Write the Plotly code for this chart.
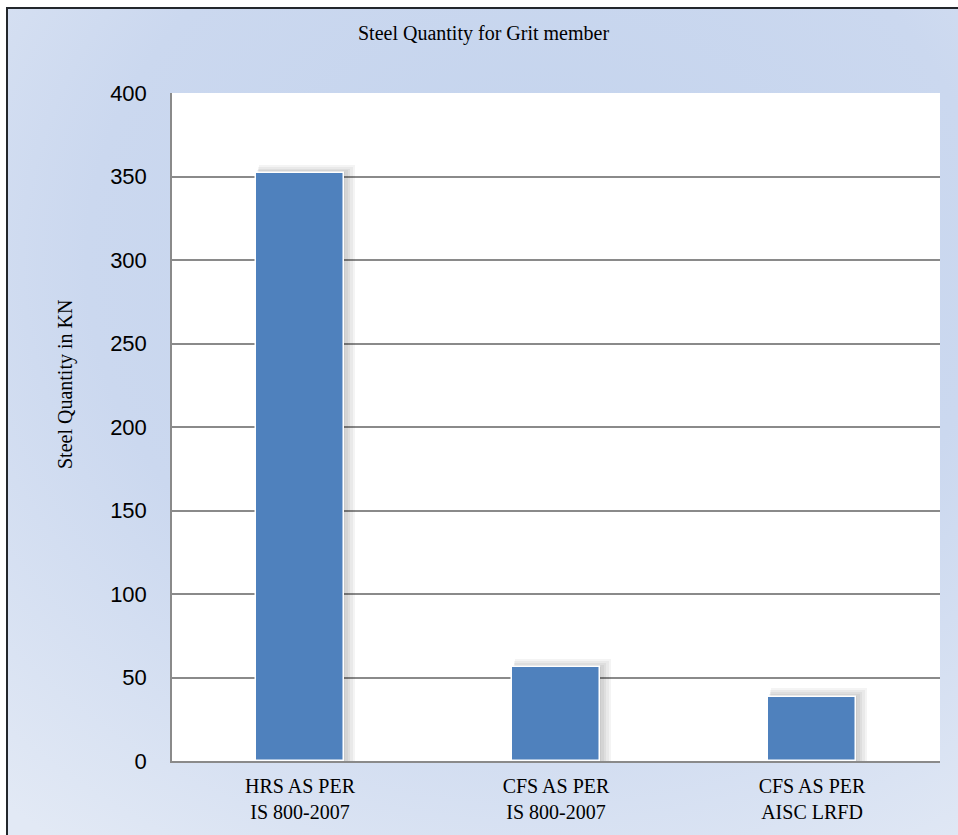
import base64
import plotly.graph_objects as go

# Chart data
categories = ["HRS AS PER<br>IS 800-2007", "CFS AS PER<br>IS 800-2007", "CFS AS PER<br>AISC LRFD"]
steel_qty = [352, 56, 38.6]
y_ticks = [0, 50, 100, 150, 200, 250, 300, 350, 400]

title_text = "Steel Quantity for Grit member"
y_title = "Steel Quantity in KN"

W, H = 958, 835
L, R, T, B = 172, 18, 93, 74
PW, PH = W - L - R, H - T - B


def px_x(px):
    return (px - L) / PW


def px_y(py):
    return (H - B - py) / PH


BAR_W = 0.344
BAR_COLOR = "#4F81BD"
x_pos = list(range(len(categories)))

fig = go.Figure()

# soft drop shadow built from several translucent layers behind each bar
unit_px = PH / 400.0
cat_px = PW / len(categories)
for spread in (9, 7, 5, 3, 1):
    fig.add_trace(go.Bar(
        x=x_pos,
        y=[v + spread * 0.9 / unit_px for v in steel_qty],
        width=BAR_W + (spread * 0.9) / cat_px,
        offset=-BAR_W / 2 + (spread * 0.35) / cat_px,
        marker=dict(color="rgba(0,0,0,0.045)", line=dict(width=0)),
        hoverinfo="skip",
        showlegend=False,
    ))

fig.add_trace(go.Bar(
    x=x_pos,
    y=steel_qty,
    width=BAR_W,
    offset=-BAR_W / 2,
    marker=dict(color=BAR_COLOR, line=dict(color="white", width=1.5)),
    showlegend=False,
))

# gradient backdrop for the chart frame
svg = (
    '<svg xmlns="http://www.w3.org/2000/svg" width="960" height="840" viewBox="0 0 960 840" preserveAspectRatio="none">'
    '<defs><radialGradient id="g" cx="0.55" cy="0.3" r="0.85" gradientUnits="objectBoundingBox">'
    '<stop offset="0" stop-color="#c3d3ed"/>'
    '<stop offset="0.55" stop-color="#cbd8ef"/>'
    '<stop offset="1" stop-color="#e2e9f5"/>'
    '</radialGradient></defs>'
    '<rect width="960" height="840" fill="url(#g)"/></svg>'
)
src = "data:image/svg+xml;base64," + base64.b64encode(svg.encode()).decode()

fx0, fy0, fx1, fy1 = 7, 8, 975, 850
fig.add_layout_image(dict(
    source=src, xref="paper", yref="paper",
    x=px_x(fx0), y=px_y(fy0),
    sizex=(fx1 - fx0) / PW, sizey=(fy1 - fy0) / PH,
    xanchor="left", yanchor="top", sizing="stretch", layer="below",
))

# white plotting area on top of the backdrop
fig.add_shape(type="rect", xref="paper", yref="paper", x0=0, x1=1, y0=0, y1=1,
              fillcolor="white", line=dict(width=0), layer="below")
# dark frame around the whole chart
fig.add_shape(type="rect", xref="paper", yref="paper",
              x0=px_x(fx0), x1=px_x(fx1), y0=px_y(fy1), y1=px_y(fy0),
              line=dict(color="#23272c", width=2), fillcolor="rgba(0,0,0,0)", layer="above")

fig.add_annotation(text=title_text, xref="paper", yref="paper",
                   x=px_x(483), y=px_y(33), xanchor="center", yanchor="middle",
                   showarrow=False, font=dict(family="Liberation Serif", size=20, color="#000"))
fig.add_annotation(text=y_title, xref="paper", yref="paper", textangle=-90,
                   x=px_x(65), y=px_y(385), xanchor="center", yanchor="middle",
                   showarrow=False, font=dict(family="Liberation Serif", size=20, color="#000"))

fig.update_layout(
    width=W, height=H,
    margin=dict(l=L, r=R, t=T, b=B, pad=0),
    paper_bgcolor="white",
    plot_bgcolor="rgba(0,0,0,0)",
    barmode="overlay",
    bargap=0,
)

fig.update_xaxes(
    range=[-0.5, 2.5],
    tickmode="array", tickvals=x_pos, ticktext=categories,
    showgrid=False, zeroline=False,
    showline=True, linecolor="#8a8a8a", linewidth=1.5,
    ticks="", ticklabelstandoff=6,
    tickfont=dict(family="Liberation Serif", size=20, color="#000"),
)
fig.update_yaxes(
    range=[0, 400],
    tickmode="array", tickvals=y_ticks,
    showgrid=True, gridcolor="#8a8a8a", gridwidth=1.5,
    zeroline=False,
    showline=True, linecolor="#8a8a8a", linewidth=1.5,
    ticks="", ticklabelstandoff=19,
    tickfont=dict(family="Liberation Sans Narrow, Liberation Sans", size=22, color="#000"),
)

fig.write_html("out.html")
